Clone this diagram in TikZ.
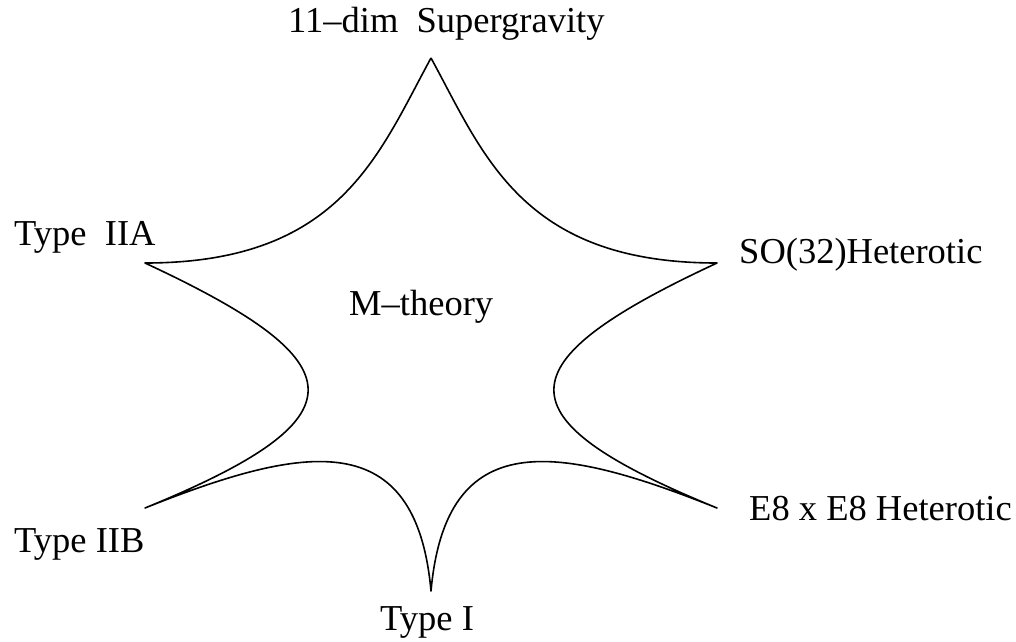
\documentclass[tikz,border=0pt]{standalone}
\usepackage{fontspec}
\setmainfont{Liberation Serif}
\begin{document}
\begin{tikzpicture}[x=1pt,y=-1pt,
  lbl/.style={anchor=base west,inner sep=0pt,font=\fontsize{36.5}{40}\selectfont},
  starline/.style={draw=black,line width=1.6pt,line join=round}]
\useasboundingbox (0,0) rectangle (1016,641);
% star tips
\coordinate (T)  at (431,58);
\coordinate (UR) at (717,263);
\coordinate (LR) at (717,508);
\coordinate (B)  at (431,591);
\coordinate (LL) at (145,508);
\coordinate (UL) at (145,263);
\draw[starline] (T) .. controls (484,155) and (522,263) .. (UR)
  .. controls (502,363) and (497,418) .. (LR)
  .. controls (557,444) and (446,425) .. (B)
  .. controls (416,425) and (305,444) .. (LL)
  .. controls (365,418) and (360,363) .. (UL)
  .. controls (340,263) and (378,155) .. (T);
% labels
\node[lbl] (sugra) at (288,32)  {11\textendash dim\ \ Supergravity};
\node[lbl] (iia)   at (14,245)  {Type\ \ IIA};
\node[lbl] (so32)  at (739,263) {SO(32)Heterotic};
\node[lbl] (mth)   at (349,315) {M\textendash theory};
\node[lbl] (iib)   at (14,552)  {Type IIB};
\node[lbl] (e8)    at (749,520) {E8 x E8 Heterotic};
\node[lbl] (ti)    at (380,630) {Type I};
\end{tikzpicture}
\end{document}
